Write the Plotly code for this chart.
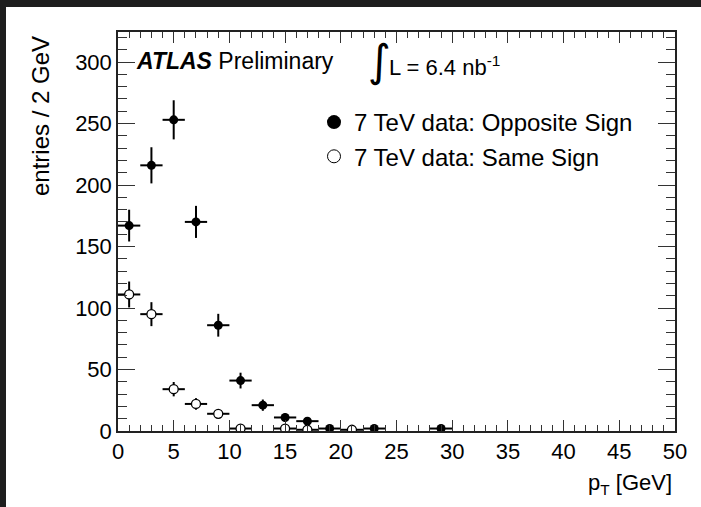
import plotly.graph_objects as go
import numpy as np

# ---- data ----
os_x = [1, 3, 5, 7, 9, 11, 13, 15, 17, 19, 23, 29]        # bin centres, opposite sign
os_y = [167, 216, 253, 170, 86, 41, 21, 11, 8, 2, 2, 2]     # entries / 2 GeV
ss_x = [1, 3, 5, 7, 9, 11, 15, 17, 21]                      # bin centres, same sign
ss_y = [111, 95, 34, 22, 14, 2, 2, 1, 1]
bin_half = 1.0                                              # half bin width (GeV)

os_err = list(np.sqrt(os_y))
ss_err = list(np.sqrt(ss_y))

FONT = "Liberation Sans, Arial, Helvetica, sans-serif"
W, H = 701, 507
ML, MR, MT, MB = 118, 26, 32, 76
PW, PH = W - ML - MR, H - MT - MB

def px_x(p):
    return (p - ML) / PW

def px_y(p):
    return (H - MB - p) / PH

fig = go.Figure()

err_style = dict(type="data", thickness=2, width=0, color="black")

fig.add_trace(go.Scatter(
    x=os_x, y=os_y, mode="markers", showlegend=False,
    marker=dict(symbol="circle", size=9, color="black"),
    error_y=dict(array=os_err, **err_style),
    error_x=dict(array=[bin_half] * len(os_x), **err_style),
))
fig.add_trace(go.Scatter(
    x=ss_x, y=ss_y, mode="markers", showlegend=False,
    marker=dict(symbol="circle", size=9, color="white",
                line=dict(color="black", width=1.3)),
    error_y=dict(array=ss_err, **err_style),
    error_x=dict(array=[bin_half] * len(ss_x), **err_style),
))
# legend entries
fig.add_trace(go.Scatter(
    x=[None], y=[None], mode="markers", name="7 TeV data: Opposite Sign",
    marker=dict(symbol="circle", size=14, color="black"),
))
fig.add_trace(go.Scatter(
    x=[None], y=[None], mode="markers", name="7 TeV data: Same Sign",
    marker=dict(symbol="circle", size=13, color="white",
                line=dict(color="black", width=1)),
))

axis_common = dict(
    showgrid=False, zeroline=False, showline=True, linecolor="#222",
    linewidth=1.5, mirror="allticks", ticks="inside", tickcolor="#333",
    tickwidth=1.3, tickfont=dict(family=FONT, size=22, color="black"),
)

fig.update_xaxes(
    range=[0, 50], tick0=0, dtick=5, ticklen=11,
    minor=dict(ticks="inside", dtick=1, ticklen=6, tickcolor="#333", tickwidth=1.2),
    **axis_common,
)
fig.update_yaxes(
    range=[0, 324.4], tick0=0, dtick=50, ticklen=17,
    minor=dict(ticks="inside", dtick=10, ticklen=9, tickcolor="#333", tickwidth=1.2),
    **axis_common,
)

ann = []
ann.append(dict(
    text="<b><i>ATLAS</i></b> Preliminary", x=px_x(134), y=px_y(61),
    xref="paper", yref="paper", xanchor="left", yanchor="middle",
    showarrow=False, font=dict(family=FONT, size=23, color="black"),
))
ann.append(dict(
    text="\u222b", x=px_x(379), y=px_y(60),
    xref="paper", yref="paper", xanchor="center", yanchor="middle",
    showarrow=False, font=dict(family="DejaVu Sans", size=44, color="black"),
))
ann.append(dict(
    text="L = 6.4 nb<sup>-1</sup>", x=px_x(387), y=px_y(66),
    xref="paper", yref="paper", xanchor="left", yanchor="middle",
    showarrow=False, font=dict(family=FONT, size=22, color="black"),
))
ann.append(dict(
    text="entries / 2 GeV", x=px_x(40), y=px_y(34),
    xref="paper", yref="paper", xanchor="center", yanchor="top",
    textangle=-90, showarrow=False,
    font=dict(family=FONT, size=24, color="black"),
))
ann.append(dict(
    text="p<sub>T</sub> [GeV]", x=px_x(674), y=px_y(484),
    xref="paper", yref="paper", xanchor="right", yanchor="middle",
    showarrow=False, font=dict(family=FONT, size=22, color="black"),
))

shapes = [
    dict(type="rect", xref="paper", yref="paper", layer="above",
         x0=px_x(0), x1=px_x(6), y0=px_y(H), y1=px_y(0),
         fillcolor="#1e1e1e", line=dict(width=0)),
    dict(type="rect", xref="paper", yref="paper", layer="above",
         x0=px_x(0), x1=px_x(W), y0=px_y(7), y1=px_y(0),
         fillcolor="#1e1e1e", line=dict(width=0)),
]

fig.update_layout(
    width=W, height=H,
    margin=dict(l=ML, r=MR, t=MT, b=MB),
    paper_bgcolor="white", plot_bgcolor="white",
    font=dict(family=FONT, color="black"),
    annotations=ann, shapes=shapes,
    legend=dict(x=px_x(314), y=px_y(100), xanchor="left", yanchor="top",
                bgcolor="rgba(0,0,0,0)", font=dict(family=FONT, size=24, color="black"),
                itemwidth=30, tracegroupgap=0),
)

fig.write_html("out.html")
